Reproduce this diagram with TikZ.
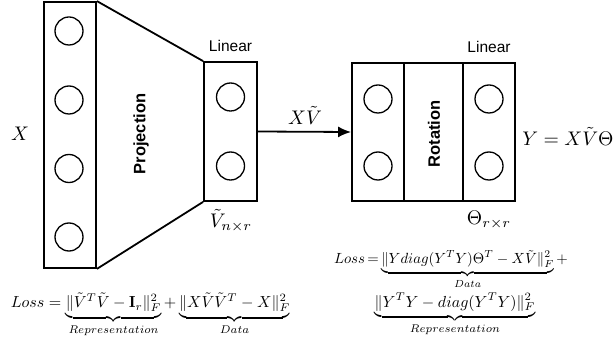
\documentclass[tikz,border=0pt]{standalone}
\usepackage{amsmath}
\usepackage{fontspec}
\newfontfamily\hv{Liberation Sans}
\usetikzlibrary{arrows.meta}
\tikzset{
  layer/.style={draw, line width=1.8pt, inner sep=0pt, minimum width=#1},
  unit/.style={draw, circle, line width=1.3pt, inner sep=0pt, minimum size=28pt},
  lintext/.style={font=\hv\fontsize{15.5}{18}\selectfont, inner sep=1pt},
  optext/.style={font=\hv\bfseries\fontsize{16.5}{19}\selectfont, rotate=90, inner sep=1pt},
  mathtext/.style={scale=1.97, inner sep=0pt},
  losstext/.style={scale=1.6, inner sep=0pt, anchor=base},
  conn/.style={line width=1.8pt},
  arrowconn/.style={line width=1.8pt, -{Latex[length=13pt,width=11pt]}}
}
\begin{document}
\begin{tikzpicture}[x=1pt,y=-1pt]
\useasboundingbox (0,0) rectangle (615,344);
% left input layer
\node[layer=52pt, minimum height=266pt] (lbox) at (70,135) {};
\node[unit] (c1) at (69,31) {};
\node[unit] (c2) at (69,100) {};
\node[unit] (c3) at (69,168.5) {};
\node[unit] (c4) at (69,237) {};
% small linear layer
\node[layer=53pt, minimum height=139pt] (sbox) at (230.5,131.5) {};
\node[unit] (s1) at (230.5,97) {};
\node[unit] (s2) at (230.5,166) {};
\draw[conn] (lbox.north east) -- (sbox.north west);
\draw[conn] (lbox.south east) -- (sbox.south west);
\node[optext] (proj) at (141,134) {Projection};
\node[lintext] (lin1) at (230.5,46) {Linear};
\node[mathtext] (vt) at (231,221) {$\tilde{V}_{n\times r}$};
\node[mathtext] (xlab) at (20,134) {$X$};
% right rotation block
\node[layer=52pt, minimum height=138pt] (rl) at (378,132) {};
\node[layer=59pt, minimum height=138pt] (rm) at (433.5,132) {};
\node[layer=52pt, minimum height=138pt] (rr) at (489,132) {};
\node[unit] (r1) at (378,99) {};
\node[unit] (r2) at (378,166) {};
\node[unit] (r3) at (489,99) {};
\node[unit] (r4) at (489,166) {};
\node[optext] (rot) at (434,134) {Rotation};
\node[lintext] (lin2) at (489,47) {Linear};
\node[mathtext] (theta) at (489,220) {$\Theta_{r\times r}$};
\node[mathtext, anchor=west] (ylab) at (522,136) {$Y=X\tilde{V}\Theta$};
% arrow
\draw[arrowconn] (sbox.east) -- (rl.west);
\node[mathtext] (xv) at (305,115) {$X\tilde{V}$};
% losses
\node[losstext] (loss1) at (150.5,308) {$Loss=\underbrace{\|\tilde{V}^T\tilde{V}-\mathbf{I}_r\|_F^2}_{Representation}+\underbrace{\|X\tilde{V}\tilde{V}^T-X\|_F^2}_{Data}$};
\node[losstext, scale=0.92] (loss2a) at (451,264) {$Loss\,{=}\underbrace{\|Y diag(Y^TY)\Theta^T-X\tilde{V}\|_F^2}_{Data}{+}$};
\node[losstext] (loss2b) at (455,307) {$\underbrace{\|Y^TY-diag(Y^TY)\|_F^2}_{Representation}$};
\end{tikzpicture}
\end{document}
